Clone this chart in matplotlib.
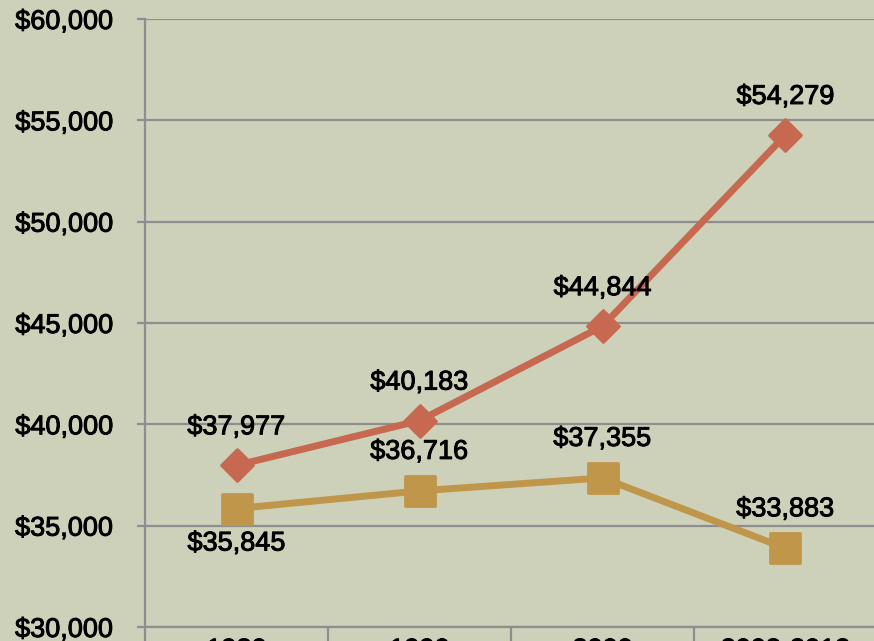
import matplotlib
matplotlib.use("Agg")
import matplotlib.pyplot as plt
import matplotlib.patheffects as pe
from matplotlib.markers import MarkerStyle
from matplotlib.ticker import FuncFormatter, FixedLocator

# Data
years = ["1980", "1990", "2000", "2008-2012"]
series_top = [37977, 40183, 44844, 54279]
series_bottom = [35845, 36716, 37355, 33883]
# label placement for bottom series: +1 above, -1 below
bottom_label_side = [-1, 1, 1, 1]

BG = "#cdd1b9"
RED = "#c76850"
GOLD = "#c0964a"
GRID = "#8e8e8e"
FS = 19.5

plt.rcParams["font.family"] = ["Liberation Sans", "DejaVu Sans"]
# slightly heavier text, closer to the original's font
heavy = [pe.withStroke(linewidth=0.7, foreground="black")]

W, H = 874, 641
fig = plt.figure(figsize=(W / 100, H / 100), dpi=100, facecolor=BG)
ax = fig.add_axes([145 / W, 14 / H, 732 / W, 608 / H], facecolor=BG)

x = list(range(len(years)))

ax.plot(x, series_top, color=RED, lw=5, marker=MarkerStyle("D", joinstyle="round"),
        ms=16, mew=2, mec=RED, mfc=RED, solid_joinstyle="round", zorder=3)
ax.plot(x, series_bottom, color=GOLD, lw=5, marker=MarkerStyle("s", joinstyle="round"),
        ms=21, mew=2, mec=GOLD, mfc=GOLD, solid_joinstyle="round", zorder=3)

fmt = lambda v: "${:,.0f}".format(v)
for xi, v in zip(x, series_top):
    ax.annotate(fmt(v), (xi, v), xytext=(0, 38), textcoords="offset pixels",
                ha="center", va="center", fontsize=FS, color="black",
                path_effects=heavy)
for xi, v, s in zip(x, series_bottom, bottom_label_side):
    ax.annotate(fmt(v), (xi, v), xytext=(0, -35 if s < 0 else 39),
                textcoords="offset pixels",
                ha="center", va="center", fontsize=FS, color="black",
                path_effects=heavy)

ax.set_xlim(-0.5, len(years) - 0.5)
ax.set_ylim(30000, 60000)
ax.set_yticks(range(30000, 60001, 5000))
ax.yaxis.set_major_formatter(FuncFormatter(lambda v, p: fmt(v)))
ax.grid(axis="y", color=GRID, lw=1.6)
ax.set_axisbelow(True)

ax.set_xticks(x)
ax.set_xticklabels(years)
ax.xaxis.set_minor_locator(FixedLocator([i - 0.5 for i in range(len(years) + 1)]))
ax.tick_params(axis="x", which="major", length=0, pad=7.5, labelsize=FS)
ax.tick_params(axis="x", which="minor", length=20, width=1.6, color=GRID)
ax.tick_params(axis="y", length=6, width=1.6, color=GRID, pad=17, labelsize=FS)
for lbl in ax.get_xticklabels() + ax.get_yticklabels():
    lbl.set_path_effects(heavy)

for side in ["top", "right"]:
    ax.spines[side].set_visible(False)
for side in ["left", "bottom"]:
    ax.spines[side].set_color(GRID)
    ax.spines[side].set_linewidth(1.6)

fig.savefig("out.png", dpi=100, facecolor=BG)
